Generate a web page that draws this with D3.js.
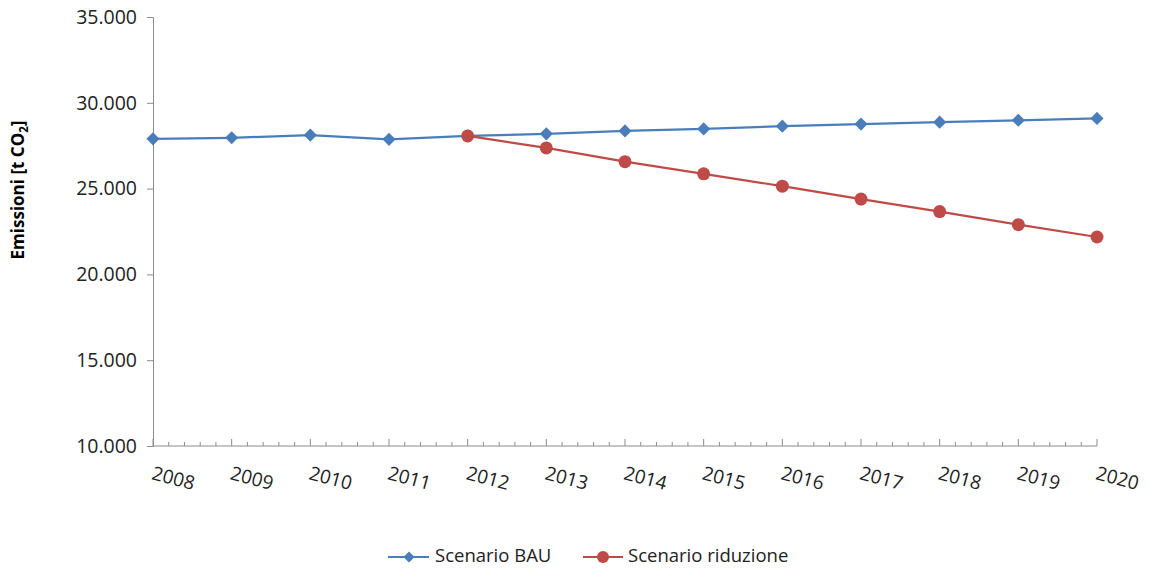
<!DOCTYPE html>
<html><head><meta charset="utf-8">
<script src="https://cdn.jsdelivr.net/npm/d3@7"></script>
<style>body{margin:0;background:#fff;} text{font-family:"Open Sans","Liberation Sans",sans-serif;}</style>
</head><body>
<svg id="c" width="1149" height="574"></svg>
<script>
const years = [2008,2009,2010,2011,2012,2013,2014,2015,2016,2017,2018,2019,2020];
const bau = [27900,27960,28120,27870,28070,28190,28360,28480,28640,28760,28870,28980,29090];
const riduzioneYears = [2012,2013,2014,2015,2016,2017,2018,2019,2020];
const riduzione = [28070,27370,26570,25860,25140,24390,23660,22900,22180];
const yTicks = [10000,15000,20000,25000,30000,35000];
const seriesNames = ["Scenario BAU","Scenario riduzione"];

const svg = d3.select("#c");
const x = d3.scaleLinear().domain([2008,2020]).range([153,1097]);
const y = d3.scaleLinear().domain([10000,35000]).range([446,17]);
const fmt = v => d3.format(",")(v).replace(/,/g,".");
const blue = "#4a7ebb", red = "#be4b48", axisCol = "#8c8c8c";

// y axis
const ya = svg.append("g").attr("transform","translate(153,0)")
  .call(d3.axisLeft(y).tickValues(yTicks).tickFormat(fmt).tickSize(6).tickPadding(10));
ya.select(".domain").attr("stroke",axisCol);
ya.selectAll(".tick line").attr("stroke",axisCol);
ya.selectAll(".tick text").attr("font-size",19.5).attr("fill","#222");

// x axis with minor ticks (inside)
const minor = d3.range(0, 12*5+1).map(i => 2008 + i/5);
const xa = svg.append("g").attr("transform","translate(0,446)");
xa.append("line").attr("x1",x(2008)).attr("x2",x(2020)).attr("stroke",axisCol);
xa.selectAll("line.mi").data(minor).join("line").attr("class","mi")
  .attr("x1",d=>x(d)).attr("x2",d=>x(d)).attr("y1",0)
  .attr("y2",(d,i)=> i%5===0 ? -7 : -4).attr("stroke",axisCol);
xa.selectAll("text").data(years).join("text")
  .attr("transform",d=>`translate(${x(d)-1},${28}) rotate(15)`)
  .attr("font-size",19).attr("fill","#222").attr("dominant-baseline","middle")
  .text(d=>d);

// y label
svg.append("text").attr("transform","translate(24,190) rotate(-90)")
  .attr("text-anchor","middle").attr("font-size",17).attr("font-weight","bold").attr("fill","#000")
  .html('Emissioni [t CO<tspan font-size="11.5" dy="4">2</tspan><tspan dy="-4">]</tspan>');

const line = d3.line().x(d=>x(d[0])).y(d=>y(d[1]));
const bauData = years.map((yr,i)=>[yr,bau[i]]);
const ridData = riduzioneYears.map((yr,i)=>[yr,riduzione[i]]);

svg.append("path").datum(bauData).attr("d",line).attr("fill","none").attr("stroke",blue).attr("stroke-width",2.2);
svg.append("path").datum(ridData).attr("d",line).attr("fill","none").attr("stroke",red).attr("stroke-width",2.2);

const diamond = d3.symbol().type(d3.symbolDiamond2).size(110);
svg.selectAll("path.bm").data(bauData).join("path").attr("class","bm")
  .attr("d",diamond).attr("transform",d=>`translate(${x(d[0])},${y(d[1])})`).attr("fill",blue);
svg.selectAll("circle.rm").data(ridData).join("circle").attr("class","rm")
  .attr("cx",d=>x(d[0])).attr("cy",d=>y(d[1])).attr("r",6.5).attr("fill",red);

// legend
const lg = svg.append("g").attr("transform","translate(0,557)");
lg.append("line").attr("x1",388).attr("x2",429).attr("stroke",blue).attr("stroke-width",2.2);
lg.append("path").attr("d",d3.symbol().type(d3.symbolDiamond2).size(80)).attr("transform","translate(409,0)").attr("fill",blue);
lg.append("text").attr("x",435).attr("y",0).attr("dominant-baseline","middle").attr("font-size",18.5).attr("fill","#222").text(seriesNames[0]);
lg.append("line").attr("x1",583).attr("x2",623).attr("stroke",red).attr("stroke-width",2.2);
lg.append("circle").attr("cx",603).attr("cy",0).attr("r",6).attr("fill",red);
lg.append("text").attr("x",628).attr("y",0).attr("dominant-baseline","middle").attr("font-size",18.5).attr("fill","#222").text(seriesNames[1]);
</script>
</body></html>
